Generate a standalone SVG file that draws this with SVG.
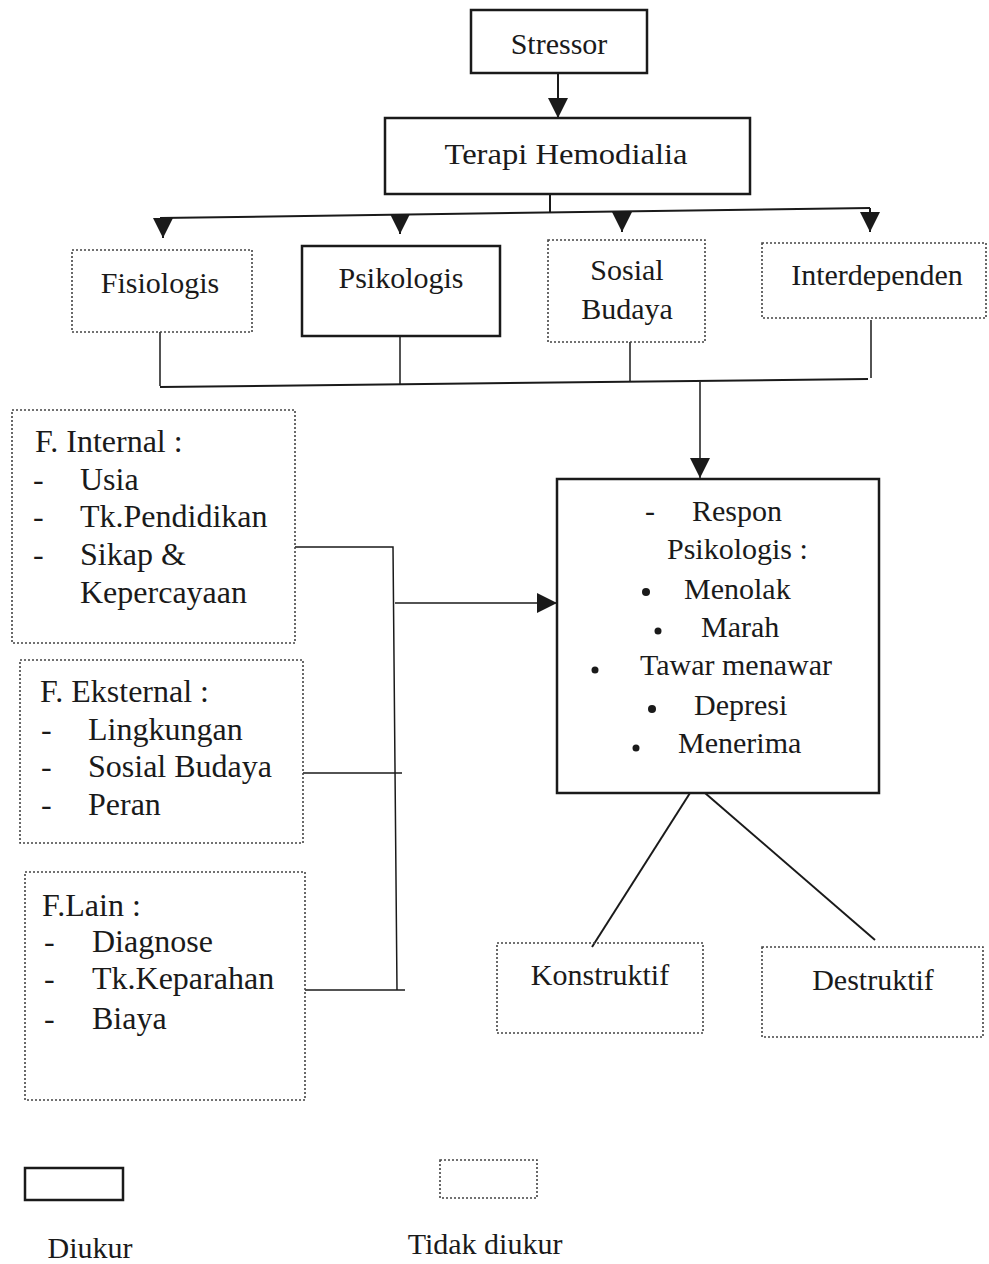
<svg xmlns="http://www.w3.org/2000/svg" width="989" height="1264" viewBox="0 0 989 1264">
<style>
text{font-family:"Liberation Serif","Times New Roman",serif;font-size:30px;fill:#1a1a1a}
.c{text-anchor:middle}
.l{font-size:32px}
.solid{fill:none;stroke:#1a1a1a;stroke-width:2.5}
.dot{fill:none;stroke:#444;stroke-width:1.6;stroke-dasharray:2 2}
.ln{fill:none;stroke:#1a1a1a;stroke-width:2}
.tn{fill:none;stroke:#1a1a1a;stroke-width:1.5}
</style>
<defs>
<marker id="ab" viewBox="0 0 10 10" refX="10" refY="5" markerWidth="20" markerHeight="20" orient="auto" markerUnits="userSpaceOnUse">
<path d="M0,0 L10,5 L0,10 z" fill="#1a1a1a"/>
</marker>
</defs>
<rect width="989" height="1264" fill="#fff"/>

<g id="connectors">
<line class="ln" x1="558" y1="73" x2="558" y2="118" marker-end="url(#ab)"/>
<line class="ln" x1="550" y1="194" x2="550" y2="212"/>
<line class="ln" x1="160" y1="218" x2="870" y2="208"/>
<line class="ln" x1="163" y1="218" x2="163" y2="238" marker-end="url(#ab)"/>
<line class="ln" x1="400" y1="214" x2="400" y2="234" marker-end="url(#ab)"/>
<line class="ln" x1="622" y1="211" x2="622" y2="232" marker-end="url(#ab)"/>
<line class="ln" x1="870" y1="208" x2="870" y2="232" marker-end="url(#ab)"/>

<line class="tn" x1="160" y1="332" x2="160" y2="386"/>
<line class="tn" x1="400" y1="336" x2="400" y2="384"/>
<line class="tn" x1="630" y1="342" x2="630" y2="382"/>
<line class="tn" x1="871" y1="320" x2="871" y2="378"/>
<line class="ln" x1="160" y1="387" x2="868" y2="379"/>
<line class="tn" x1="700" y1="382" x2="700" y2="478" marker-end="url(#ab)"/>

<polyline class="tn" points="295,547 393,547 397,990"/>
<line class="tn" x1="303" y1="773" x2="402" y2="773"/>
<line class="tn" x1="305" y1="990" x2="405" y2="990"/>
<line class="tn" x1="395" y1="603" x2="557" y2="603" marker-end="url(#ab)"/>

<line class="ln" x1="690" y1="793" x2="592" y2="947"/>
<line class="ln" x1="705" y1="793" x2="875" y2="940"/>
</g>

<g id="stressor">
<rect class="solid" x="471" y="10" width="176" height="63"/>
<text class="c" x="559" y="54">Stressor</text>
</g>
<g id="terapi">
<rect class="solid" x="385" y="118" width="365" height="76"/>
<text class="c" x="566" y="164" textLength="243" lengthAdjust="spacingAndGlyphs">Terapi Hemodialia</text>
</g>
<g id="fisiologis">
<rect class="dot" x="72" y="250" width="180" height="82"/>
<text class="c" x="160" y="293">Fisiologis</text>
</g>
<g id="psikologis">
<rect class="solid" x="302" y="246" width="198" height="90"/>
<text class="c" x="401" y="288">Psikologis</text>
</g>
<g id="sosial">
<rect class="dot" x="548" y="240" width="157" height="102"/>
<text class="c" x="627" y="280">Sosial</text>
<text class="c" x="627" y="319">Budaya</text>
</g>
<g id="interdependen">
<rect class="dot" x="762" y="243" width="224" height="75"/>
<text class="c" x="877" y="285">Interdependen</text>
</g>

<g id="internal" class="l">
<rect class="dot" x="12" y="410" width="283" height="233"/>
<text class="l" x="35" y="452">F. Internal :</text>
<text class="l" x="33" y="490">-</text><text class="l" x="80" y="490">Usia</text>
<text class="l" x="33" y="527">-</text><text class="l" x="80" y="527">Tk.Pendidikan</text>
<text class="l" x="33" y="565">-</text><text class="l" x="80" y="565">Sikap &amp;</text>
<text class="l" x="80" y="603">Kepercayaan</text>
</g>
<g id="eksternal">
<rect class="dot" x="20" y="660" width="283" height="183"/>
<text class="l" x="40" y="702">F. Eksternal :</text>
<text class="l" x="41" y="740">-</text><text class="l" x="88" y="740">Lingkungan</text>
<text class="l" x="41" y="777">-</text><text class="l" x="88" y="777">Sosial Budaya</text>
<text class="l" x="41" y="815">-</text><text class="l" x="88" y="815">Peran</text>
</g>
<g id="lain">
<rect class="dot" x="25" y="872" width="280" height="228"/>
<text class="l" x="42" y="916">F.Lain :</text>
<text class="l" x="44" y="952">-</text><text class="l" x="92" y="952">Diagnose</text>
<text class="l" x="44" y="989">-</text><text class="l" x="92" y="989">Tk.Keparahan</text>
<text class="l" x="44" y="1029">-</text><text class="l" x="92" y="1029">Biaya</text>
</g>

<g id="respon">
<rect class="solid" x="557" y="479" width="322" height="314" stroke-width="2"/>
<text x="645" y="521">-</text><text x="692" y="521">Respon</text>
<text x="667" y="559">Psikologis :</text>
<circle cx="646" cy="592" r="4" fill="#1a1a1a"/><text x="684" y="599">Menolak</text>
<circle cx="658" cy="631" r="3.5" fill="#1a1a1a"/><text x="701" y="637">Marah</text>
<circle cx="595" cy="670" r="3.5" fill="#1a1a1a"/><text x="640" y="675">Tawar menawar</text>
<circle cx="652" cy="709" r="4" fill="#1a1a1a"/><text x="694" y="715">Depresi</text>
<circle cx="636" cy="748" r="3.5" fill="#1a1a1a"/><text x="678" y="753">Menerima</text>
</g>

<g id="konstruktif">
<rect class="dot" x="497" y="943" width="206" height="90"/>
<text class="c" x="600" y="985">Konstruktif</text>
</g>
<g id="destruktif">
<rect class="dot" x="762" y="947" width="221" height="90"/>
<text class="c" x="873" y="990">Destruktif</text>
</g>

<g id="legend">
<rect class="solid" x="25" y="1168" width="98" height="32" stroke-width="2"/>
<rect class="dot" x="440" y="1160" width="97" height="38"/>
<text class="c" x="90" y="1258">Diukur</text>
<text class="c" x="485" y="1254">Tidak diukur</text>
</g>
</svg>
